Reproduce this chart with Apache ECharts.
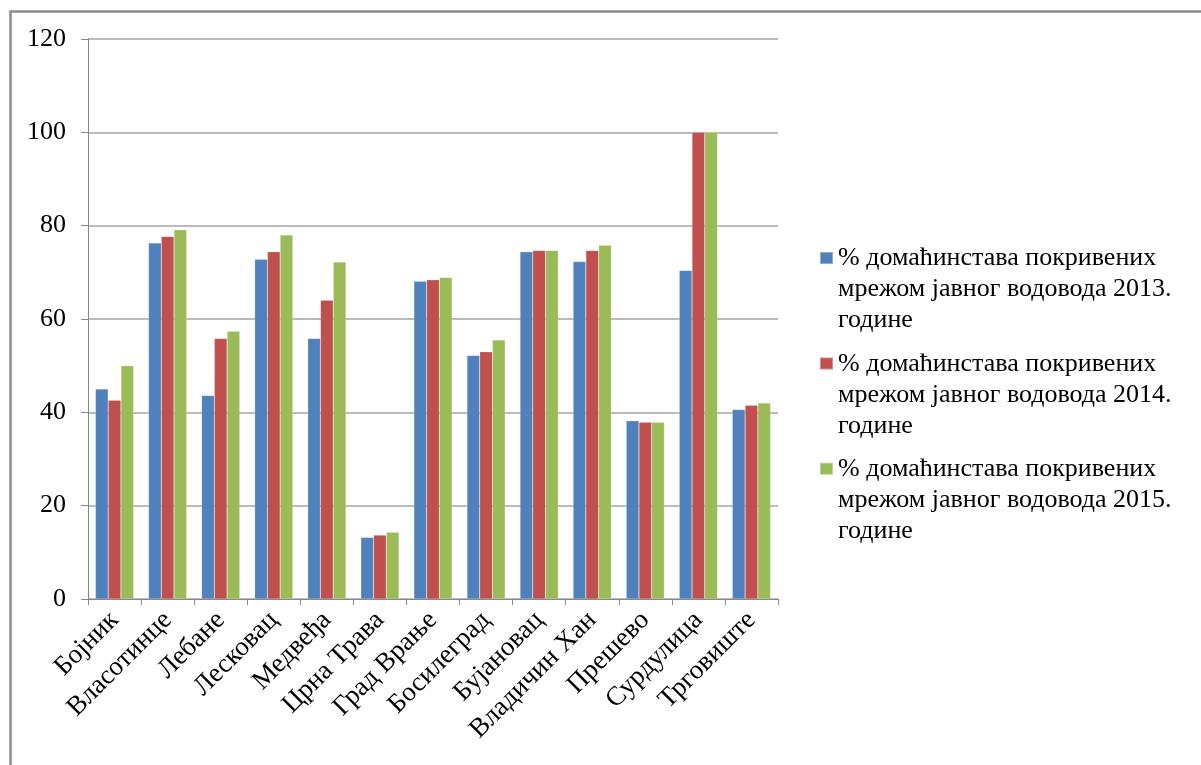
<!DOCTYPE html>
<html>
<head>
<meta charset="utf-8">
<script src="https://cdn.jsdelivr.net/npm/echarts@6/dist/echarts.min.js"></script>
<style>html,body{margin:0;padding:0;background:#fff;}#c{width:1201px;height:765px;}</style>
</head>
<body>
<div id="c"></div>
<script>
const categories = ['Бојник','Власотинце','Лебане','Лесковац','Медвеђа','Црна Трава','Град Врање','Босилеград','Бујановац','Владичин Хан','Прешево','Сурдулица','Трговиште'];
const seriesNames = [
  '% домаћинстава покривених\nмрежом јавног водовода 2013.\nгодине',
  '% домаћинстава покривених\nмрежом јавног водовода 2014.\nгодине',
  '% домаћинстава покривених\nмрежом јавног водовода 2015.\nгодине'
];
const values2013 = [45.0, 76.3, 43.6, 72.8, 55.8, 13.2, 68.1, 52.2, 74.4, 72.3, 38.2, 70.4, 40.6];
const values2014 = [42.6, 77.7, 55.8, 74.4, 64.0, 13.7, 68.4, 53.0, 74.7, 74.7, 37.9, 100, 41.5];
const values2015 = [50.0, 79.1, 57.4, 78.0, 72.2, 14.3, 68.9, 55.5, 74.7, 75.8, 37.9, 100, 42.0];
const yTicks = [0, 20, 40, 60, 80, 100, 120];
const colors = ['#4F81BD', '#C0504D', '#9BBB59'];

const font = '"Liberation Serif", "DejaVu Serif", serif';
const chart = echarts.init(document.getElementById('c'), null, {renderer: 'canvas'});
const iconPath = 'path://M0,0h0.01v0.01h-0.01Z M0,9h13v12h-13Z M12.99,93h0.01v0.01h-0.01Z';
const allVals = [values2013, values2014, values2015];
chart.setOption({
  animation: false,
  backgroundColor: '#fff',
  color: colors,
  graphic: [{
    type: 'rect', left: 8, top: 9, silent: true,
    shape: {width: 1210, height: 780},
    style: {fill: 'none', stroke: '#8c8c8c', lineWidth: 2.5}
  }],
  grid: {left: 88, top: 39, right: 423, bottom: 166, containLabel: false},
  legend: {
    orient: 'vertical', left: 819, top: 242, padding: 0,
    itemWidth: 13, itemHeight: 93, itemGap: 10.4,
    icon: iconPath,
    textStyle: {fontFamily: font, fontSize: 26, lineHeight: 31, color: '#000'},
    data: seriesNames
  },
  xAxis: {
    type: 'category', data: categories,
    axisLine: {lineStyle: {color: '#868686', width: 1}},
    axisTick: {show: true, alignWithLabel: false, length: 6, lineStyle: {color: '#868686'}},
    axisLabel: {interval: 0, rotate: 45, margin: 17, fontFamily: font, fontSize: 27, color: '#000'},
    splitLine: {show: false}
  },
  yAxis: {
    type: 'value', min: yTicks[0], max: yTicks[yTicks.length - 1], interval: 20,
    axisLine: {show: true, lineStyle: {color: '#868686', width: 1}},
    axisTick: {show: true, length: 7, lineStyle: {color: '#868686'}},
    axisLabel: {margin: 22, fontFamily: font, fontSize: 26, color: '#000'},
    splitLine: {lineStyle: {color: '#a6a6a6', width: 1.5}}
  },
  series: seriesNames.map((n, i) => ({
    name: n, type: 'bar', data: allVals[i],
    barGap: '0%', barCategoryGap: '28%',
    itemStyle: {color: colors[i], borderColor: 'rgba(255,255,255,0.35)', borderWidth: 0.5}
  }))
});
</script>
</body>
</html>
